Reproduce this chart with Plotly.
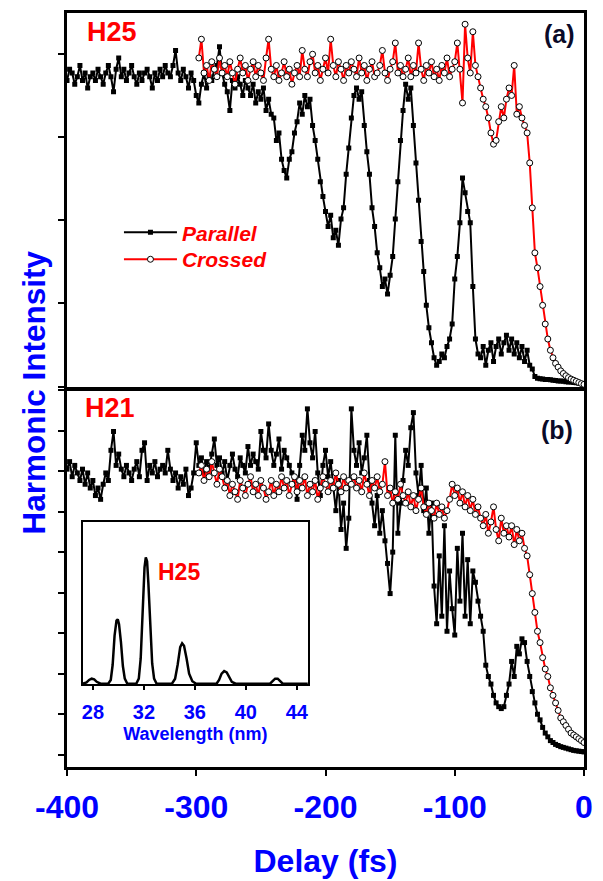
import numpy as np
import plotly.graph_objects as go

# ---------------- data ----------------
delay_par = np.arange(-400, 1, 2)   # Parallel delays (fs)
delay_cr = np.arange(-298, 1, 2)    # Crossed delays (fs)

# Panel (a) H25
par_a = [82, 85, 84, 81, 83, 86, 82, 84, 80, 83,
         84, 82, 85, 83, 81, 84, 86, 83, 79, 85,
         88, 83, 85, 82, 84, 86, 83, 81, 84, 82,
         84, 85, 83, 80, 84, 82, 85, 83, 86, 84,
         83, 86, 90, 84, 82, 85, 83, 80, 84, 82,
         78, 76, 81, 84, 80, 83, 82, 85, 86, 91,
         84, 81, 79, 74, 82, 80, 83, 81, 78, 82,
         80, 78, 81, 76, 79, 77, 80, 74, 77, 73,
         72, 66, 68, 61, 58, 56, 61, 63, 68, 71,
         76, 73, 78, 75, 77, 70, 66, 61, 55, 51,
         47, 43, 46, 40, 42, 38, 45, 48, 57, 64,
         72, 78, 80, 77, 79, 70, 63, 57, 48, 43,
         36, 32, 27, 29, 25, 30, 35, 45, 55, 66,
         74, 81, 77, 80, 70, 60, 50, 39, 31, 22,
         16, 12, 8, 6, 7, 9, 8, 11, 13, 17,
         29, 35, 44, 56, 52, 47, 44, 27, 13, 9,
         8, 11, 6, 10, 12, 7, 11, 13, 9, 12,
         14, 10, 13, 9, 12, 8, 11, 7, 10, 6,
         5, 3, 2.5, 2.4, 2.3, 2.2, 2.2, 2.1, 2.0, 1.9,
         1.8, 1.8, 1.7, 1.6, 1.5, 1.5, 1.4, 1.3, 1.2, 1.1,
         1.0]
cr_a = [88, 93, 84, 86, 82, 87, 85, 83, 88, 84,
        86, 83, 87, 84, 81, 85, 88, 84, 86, 82,
        85, 87, 83, 86, 84, 82, 88, 93, 85, 83,
        86, 82, 84, 87, 83, 85, 81, 84, 86, 83,
        90, 85, 83, 87, 89, 84, 86, 82, 85, 88,
        84, 93, 86, 83, 87, 85, 82, 86, 84, 87,
        85, 83, 88, 84, 86, 82, 85, 87, 83, 84,
        86, 90, 84, 82, 85, 87, 92, 84, 86, 83,
        85, 88, 83, 86, 84, 92, 85, 82, 86, 84,
        87, 83, 85, 82, 86, 84, 88, 83, 85, 87,
        92, 85, 76, 97, 88, 84, 95, 86, 83, 80,
        77, 75, 72, 68, 65, 66, 71, 75, 72, 77,
        80, 78, 86, 73, 75, 72, 70, 68, 60, 48,
        36, 32, 27, 22, 17, 13, 10, 8, 6.5, 5.5,
        4.5, 3.8, 3.2, 2.7, 2.3, 2.0, 1.7, 1.4, 1.1, 0.9]

# Panel (b) H21
par_b = [79, 81, 77, 80, 78, 76, 79, 75, 78, 74,
         76, 72, 74, 71, 75, 78, 76, 84, 89, 80,
         83, 79, 77, 80, 78, 76, 79, 81, 77, 84,
         86, 76, 80, 78, 81, 77, 79, 80, 78, 84,
         79, 76, 78, 74, 77, 75, 79, 72, 74, 78,
         86, 80, 82, 78, 81, 79, 83, 87, 80, 82,
         78, 81, 76, 80, 83, 79, 77, 82, 80, 78,
         85, 80, 83, 81, 79, 89, 84, 82, 91, 84,
         80, 83, 87, 79, 84, 82, 80, 78, 76, 71,
         80, 88, 84, 95, 86, 82, 89, 78, 72, 80,
         84, 77, 81, 74, 68, 76, 63, 70, 58, 66,
         95, 84, 80, 86, 78, 82, 88, 76, 70, 64,
         72, 62, 68, 60, 54, 46, 57, 88, 62, 70,
         76, 84, 80, 90, 94, 78, 72, 80, 68, 74,
         62, 70, 48, 38, 56, 40, 64, 36, 52, 42,
         35, 58, 44, 62, 40, 55, 38, 52, 49, 44,
         40, 36, 27, 24, 22, 19, 17, 16, 15.5, 16,
         19, 22, 28, 24, 32, 30, 34, 33, 28, 24,
         20, 17, 14, 12.5, 10.5, 9, 8, 7, 6.5, 6,
         5.7, 5.4, 5.2, 5.0, 4.8, 4.6, 4.4, 4.3, 4.2, 4.1,
         4.0]
cr_b = [78, 80, 76, 79, 77, 81, 78, 75, 79, 77,
        74, 76, 72, 75, 73, 71, 76, 74, 72, 75,
        77, 73, 75, 72, 76, 74, 71, 73, 76, 72,
        75, 73, 77, 74, 76, 72, 75, 77, 73, 76,
        74, 77, 72, 75, 73, 76, 71, 74, 77, 75,
        73, 76, 74, 78, 75, 73, 77, 74, 76, 75,
        77, 74, 76, 73, 78, 75, 72, 76, 74, 77,
        73, 75, 81, 72, 74, 70, 73, 71, 75, 72,
        70, 73, 69, 72, 68, 71, 74, 69, 67, 70,
        68, 66, 70, 67, 69, 66, 68, 71, 75, 72,
        74, 70, 73, 69, 72, 68, 71, 67, 69, 66,
        64, 67, 62, 65, 69, 63, 60, 66, 62, 64,
        61, 64, 59, 63, 60, 62, 58, 56, 51, 46,
        41, 36, 33, 29, 26, 24, 21, 19, 17, 15,
        13, 12, 11, 10, 9, 8.5, 8, 7.5, 7, 6.5]

# Inset spectrum
wavelength = [27.2, 27.5, 27.7, 27.9, 28.1, 28.3, 28.6,
              29.2, 29.4, 29.55, 29.7, 29.85, 29.95, 30.05, 30.2, 30.35, 30.5, 30.7,
              31.4, 31.6, 31.75, 31.9, 32.05, 32.15, 32.25, 32.35, 32.5, 32.65, 32.8, 33.0,
              34.2, 34.45, 34.65, 34.85, 35.0, 35.15, 35.35, 35.55, 35.8, 36.1,
              37.7, 37.9, 38.1, 38.3, 38.5, 38.7, 38.9, 39.2,
              41.9, 42.1, 42.3, 42.5, 42.7, 42.9, 44.9]
spectrum = [0.0, 0.01, 0.03, 0.04, 0.035, 0.015, 0.0,
            0.0, 0.03, 0.15, 0.38, 0.50, 0.51, 0.47, 0.33, 0.14, 0.04, 0.0,
            0.0, 0.04, 0.2, 0.55, 0.92, 1.0, 0.97, 0.8, 0.45, 0.16, 0.04, 0.0,
            0.0, 0.04, 0.15, 0.29, 0.32, 0.30, 0.2, 0.08, 0.02, 0.0,
            0.0, 0.03, 0.08, 0.10, 0.09, 0.05, 0.015, 0.0,
            0.0, 0.02, 0.04, 0.04, 0.02, 0.0, 0.0]

delay_ticks = [-400, -300, -200, -100, 0]
delay_labels = ["-400", "-300", "-200", "-100", "0"]
wl_ticks = [28, 32, 36, 40, 44]

assert len(par_a) == len(delay_par) and len(par_b) == len(delay_par)
assert len(cr_a) == len(delay_cr) and len(cr_b) == len(delay_cr)
assert len(wavelength) == len(spectrum)

# ---------------- figure ----------------
FONT = "Liberation Sans"
BLUE = "#0000ff"
RED = "#ff0000"
fig = go.Figure()

par_style = dict(mode="lines+markers", line=dict(color="black", width=2),
                 marker=dict(symbol="square", size=5, color="black"))
cr_style = dict(mode="lines+markers", line=dict(color=RED, width=2),
                marker=dict(symbol="circle", size=6, color="white",
                            line=dict(color="black", width=1)))

fig.add_trace(go.Scatter(x=delay_par, y=par_a, name="Parallel", xaxis="x2", yaxis="y2",
                         legend="legend", **par_style))
fig.add_trace(go.Scatter(x=delay_cr, y=cr_a, name="Crossed", xaxis="x2", yaxis="y2",
                         legend="legend2", **cr_style))
fig.add_trace(go.Scatter(x=delay_par, y=par_b, name="Parallel", xaxis="x", yaxis="y",
                         showlegend=False, **par_style))
fig.add_trace(go.Scatter(x=delay_cr, y=cr_b, name="Crossed", xaxis="x", yaxis="y",
                         showlegend=False, **cr_style))
fig.add_trace(go.Scatter(x=wavelength, y=spectrum, mode="lines", xaxis="x3", yaxis="y3",
                         line=dict(color="black", width=2.5), showlegend=False))

box = dict(showline=True, linewidth=3, linecolor="black", mirror=True,
           showgrid=False, zeroline=False)
legend_font = dict(family=FONT, size=21, color=RED, weight="bold", style="italic")
legend_common = dict(xanchor="left", yanchor="top", bgcolor="rgba(0,0,0,0)",
                     itemwidth=53, font=legend_font)

fig.update_layout(
    width=603, height=881,
    margin=dict(l=59, r=26.5, t=2, b=122),
    paper_bgcolor="white", plot_bgcolor="white",
    font=dict(family=FONT, color="black"),
    xaxis=dict(domain=[0, 1], range=[-400, 0], anchor="y", **box,
               ticks="outside", ticklen=6, tickwidth=2, tickcolor="black",
               tickmode="array", tickvals=delay_ticks, ticktext=delay_labels,
               ticklabelstandoff=4,
               tickfont=dict(family=FONT, size=32, color=BLUE, weight="bold"),
               title=dict(text="Delay (fs)", standoff=26,
                          font=dict(family=FONT, size=32, color=BLUE, weight="bold"))),
    yaxis=dict(domain=[0, 0.5], range=[0, 100], anchor="x", **box,
               ticks="outside", ticklen=6, tickwidth=1.5, tickcolor="black",
               tickmode="linear", tick0=3.2, dtick=10.75, showticklabels=False),
    xaxis2=dict(domain=[0, 1], range=[-400, 0], anchor="y2", matches="x", **box,
                ticks="", showticklabels=False),
    yaxis2=dict(domain=[0.503, 1], range=[0, 100], anchor="x2", **box,
                ticks="outside", ticklen=6, tickwidth=1.5, tickcolor="black",
                tickmode="linear", tick0=0.3, dtick=22.2, showticklabels=False),
    xaxis3=dict(domain=[0.0309, 0.4657], range=[27.22, 44.86], anchor="y3",
                showline=True, linewidth=2, linecolor="black", mirror=True,
                showgrid=False, zeroline=False,
                ticks="outside", ticklen=4, tickwidth=1.5, tickcolor="black",
                tickmode="array", tickvals=wl_ticks, ticklabelstandoff=5,
                tickfont=dict(family=FONT, size=20, color=BLUE, weight="bold"),
                title=dict(text="Wavelength (nm)", standoff=5,
                           font=dict(family=FONT, size=18, color=BLUE, weight="bold"))),
    yaxis3=dict(domain=[0.1096, 0.325], range=[-0.005, 1.28], anchor="x3",
                showline=True, linewidth=2, linecolor="black", mirror=True,
                showgrid=False, zeroline=False, ticks="", showticklabels=False),
    legend=dict(x=0.1005, y=0.7358, **legend_common),
    legend2=dict(x=0.1005, y=0.7001, **legend_common),
    showlegend=True,
)

ann_font = lambda size, color: dict(family=FONT, size=size, color=color, weight="bold")
annotations = [
    dict(text="H25", x=0.087, y=0.975, font=ann_font(27, RED)),
    dict(text="H21", x=0.0831, y=0.4756, font=ann_font(27, RED)),
    dict(text="(a)", x=0.9527, y=0.9723, font=ann_font(25, "#0a0a28")),
    dict(text="(b)", x=0.9469, y=0.4465, font=ann_font(25, "#0a0a28")),
    dict(text="H25", x=0.2164, y=0.2589, font=ann_font(23, RED)),
    dict(text="Harmonic Intensity", x=-0.0638, y=0.4967, textangle=-90,
         font=ann_font(31.5, BLUE)),
]
for a in annotations:
    fig.add_annotation(xref="paper", yref="paper", showarrow=False,
                       xanchor="center", yanchor="middle", **a)

fig.write_html("out.html")
